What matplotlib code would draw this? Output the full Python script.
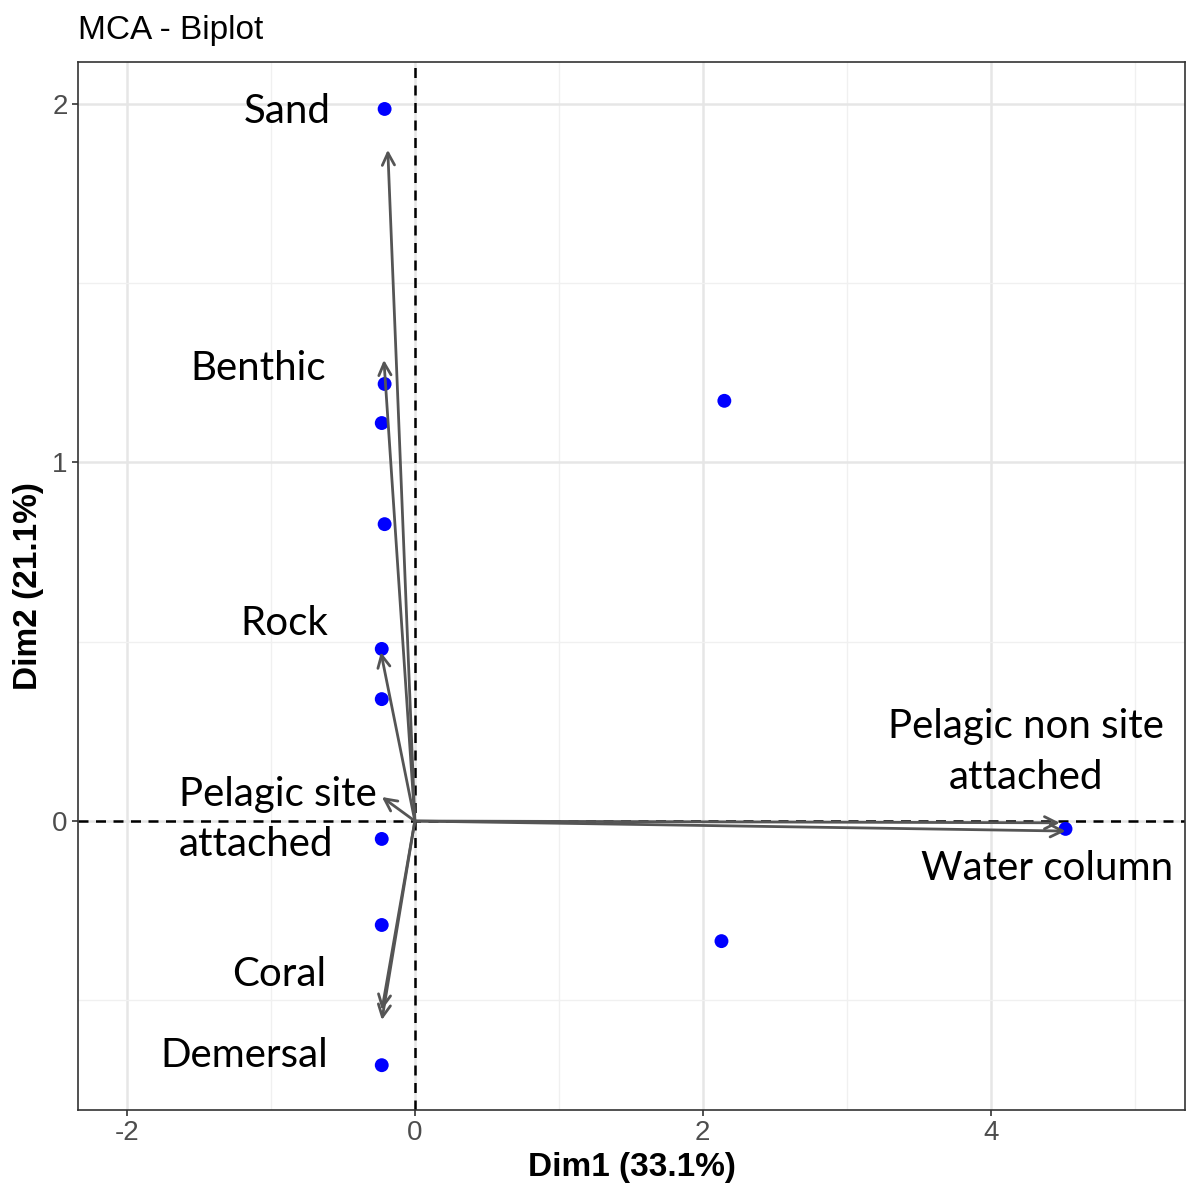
import matplotlib
matplotlib.use("Agg")
import matplotlib.pyplot as plt
import numpy as np

plt.rcParams["axes.unicode_minus"] = False

# individual points (Dim1, Dim2)
pt_x = [-0.21, -0.21, -0.23, -0.21, -0.23, -0.23, -0.23, -0.23, -0.23, 2.15, 2.13, 4.52]
pt_y = [1.986, 1.219, 1.110, 0.828, 0.480, 0.340, -0.050, -0.290, -0.681, 1.172, -0.335, -0.022]

# variable arrows
var_names = ["Sand", "Benthic", "Rock", "Pelagic site\nattached", "Coral", "Demersal",
             "Pelagic non site\nattached", "Water column"]
var_x = [-0.188, -0.215, -0.236, -0.229, -0.229, -0.229, 4.48, 4.52]
var_y = [1.872, 1.286, 0.471, 0.067, -0.527, -0.555, -0.005, -0.028]

# label anchor positions (repelled)
lab_x = [-0.889, -1.09, -0.91, -0.95, -0.944, -1.188, 4.243, 4.389]
lab_y = [1.978, 1.262, 0.55, 0.004, -0.428, -0.654, 0.193, -0.133]
lab_align = ["center", "center", "center", "left", "center", "center", "center", "center"]

W, H = 1188, 1194
fig = plt.figure(figsize=(W / 100, H / 100), dpi=100)
ax = fig.add_axes([78 / W, (H - 1110) / H, (1185 - 78) / W, (1110 - 62) / H])

ax.set_xlim(-2.34, 5.35)
ax.set_ylim(-0.806, 2.117)

ax.set_xticks([-2, 0, 2, 4])
ax.set_yticks([0, 1, 2])
ax.set_xticks([-1, 1, 3, 5], minor=True)
ax.set_yticks([-0.5, 0.5, 1.5], minor=True)
ax.grid(which="major", color="#E6E6E6", lw=1.8, zorder=0)
ax.grid(which="minor", color="#F0F0F0", lw=1.0, zorder=0)
ax.set_axisbelow(True)
ax.tick_params(which="minor", length=0)
ax.tick_params(which="major", length=4, width=1.2, color="#333333",
               labelsize=20, labelcolor="#4D4D4D")
for s in ax.spines.values():
    s.set_color("#333333")
    s.set_linewidth(1.2)

ax.axhline(0, color="black", ls=(0, (4, 3)), lw=1.8, zorder=1)
ax.axvline(0, color="black", ls=(0, (4, 3)), lw=1.8, zorder=1)

ax.scatter(pt_x, pt_y, s=100, color="#0000FF", zorder=3, edgecolors="none")

for vx, vy in zip(var_x, var_y):
    ax.annotate("", xy=(vx, vy), xytext=(0, 0),
                arrowprops=dict(arrowstyle="->", color="#555555", lw=2,
                                mutation_scale=22, shrinkA=0, shrinkB=0),
                zorder=4)

for name, lx, ly, al in zip(var_names, lab_x, lab_y, lab_align):
    ax.text(lx, ly, name, ha="center", va="center", multialignment=al,
            fontsize=29, family=["Lato", "DejaVu Sans"], color="black",
            linespacing=1.45, zorder=5)

ax.set_xlabel("Dim1 (33.1%)", fontsize=24, fontweight="bold",
              family="Liberation Sans", labelpad=4)
ax.set_ylabel("Dim2 (21.1%)", fontsize=24, fontweight="bold",
              family="Liberation Sans", labelpad=6)
for lab in ax.get_xticklabels() + ax.get_yticklabels():
    lab.set_family("Liberation Sans")
fig.text(78 / W, 1 - 30 / H, "MCA - Biplot", fontsize=24, family="Liberation Sans",
         ha="left", va="center")

fig.savefig("out.png", dpi=100)
